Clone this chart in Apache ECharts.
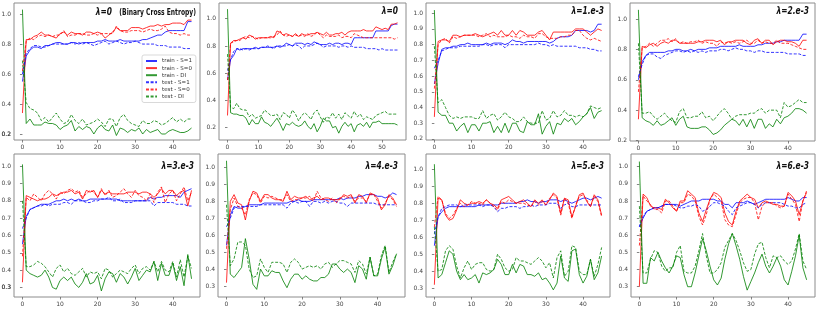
<!DOCTYPE html>
<html><head><meta charset="utf-8">
<script src="https://cdn.jsdelivr.net/npm/echarts@6/dist/echarts.min.js"></script>
<style>html,body{margin:0;padding:0;background:#fff}#c{width:822px;height:309px}</style>
</head><body><div id="c"></div>
<script>
// ---------- series names / tick labels ----------
const SERIES_NAMES = ['train - S=1','train - S=0','train - DI','test - S=1','test - S=0','test - DI'];
const X_TICKS_45 = [0,10,20,30,40];
const X_TICKS_55 = [0,10,20,30,40,50];
const Y_TICKS_02 = [0.2,0.4,0.6,0.8,1.0];
const Y_TICKS_01A = [0.2,0.3,0.4,0.5,0.6,0.7,0.8,0.9,1.0];
const Y_TICKS_01B = [0.3,0.4,0.5,0.6,0.7,0.8,0.9,1.0];
const TITLES = ['λ=0','λ=0','λ=1.e-3','λ=2.e-3','λ=3.e-3','λ=4.e-3','λ=5.e-3','λ=6.e-3'];
const SUBTITLE_1 = '(Binary Cross Entropy)';

// ---------- panel 1 : λ=0 (BCE) ----------
const P1_TRAIN_S1 = [0.55,0.72,0.76,0.78,0.78,0.77,0.79,0.79,0.80,0.81,0.81,0.80,0.80,0.81,0.81,0.80,0.81,0.81,0.81,0.81,0.82,0.82,0.83,0.82,0.82,0.82,0.83,0.82,0.82,0.82,0.82,0.82,0.83,0.83,0.84,0.85,0.86,0.86,0.88,0.89,0.89,0.89,0.89,0.89,0.95,0.95];
const P1_TRAIN_S0 = [0.34,0.83,0.83,0.85,0.86,0.88,0.86,0.86,0.85,0.84,0.87,0.88,0.86,0.88,0.87,0.87,0.86,0.88,0.88,0.87,0.88,0.87,0.84,0.86,0.88,0.91,0.89,0.89,0.89,0.91,0.91,0.91,0.90,0.91,0.92,0.92,0.93,0.92,0.93,0.93,0.94,0.94,0.94,0.93,0.96,0.96];
const P1_TRAIN_DI = [1.03,0.27,0.30,0.26,0.26,0.26,0.28,0.27,0.27,0.26,0.23,0.25,0.26,0.29,0.22,0.25,0.23,0.25,0.24,0.20,0.24,0.26,0.23,0.22,0.26,0.19,0.24,0.23,0.21,0.23,0.22,0.24,0.20,0.23,0.21,0.22,0.23,0.20,0.20,0.22,0.23,0.22,0.21,0.21,0.22,0.24];
const P1_TEST_S1 = [0.60,0.74,0.77,0.79,0.79,0.78,0.78,0.79,0.80,0.80,0.80,0.80,0.80,0.81,0.80,0.81,0.80,0.81,0.80,0.79,0.80,0.81,0.82,0.80,0.81,0.82,0.81,0.80,0.81,0.81,0.82,0.81,0.80,0.80,0.80,0.80,0.79,0.79,0.79,0.78,0.78,0.78,0.78,0.77,0.77,0.77];
const P1_TEST_S0 = [0.62,0.82,0.84,0.83,0.85,0.86,0.85,0.86,0.85,0.86,0.86,0.89,0.85,0.86,0.86,0.87,0.87,0.86,0.86,0.87,0.86,0.87,0.87,0.87,0.87,0.92,0.89,0.88,0.88,0.89,0.89,0.89,0.88,0.89,0.90,0.89,0.89,0.90,0.92,0.88,0.87,0.87,0.86,0.87,0.86,0.86];
const P1_TEST_DI = [0.69,0.41,0.37,0.36,0.34,0.29,0.31,0.28,0.31,0.34,0.30,0.27,0.28,0.33,0.29,0.27,0.30,0.26,0.27,0.28,0.30,0.28,0.25,0.30,0.30,0.25,0.31,0.33,0.29,0.27,0.26,0.25,0.29,0.27,0.27,0.29,0.28,0.26,0.27,0.29,0.31,0.28,0.30,0.28,0.30,0.30];

// ---------- panel 2 : λ=0 ----------
const P2_TRAIN_S1 = [0.55,0.70,0.73,0.78,0.77,0.78,0.78,0.78,0.78,0.79,0.78,0.79,0.79,0.79,0.79,0.79,0.80,0.79,0.80,0.82,0.81,0.80,0.82,0.82,0.82,0.81,0.82,0.81,0.83,0.82,0.81,0.81,0.81,0.82,0.81,0.82,0.82,0.81,0.82,0.82,0.81,0.86,0.86,0.86,0.86,0.86,0.86,0.86,0.91,0.91,0.91,0.91,0.91,0.95,0.96,0.96];
const P2_TRAIN_S0 = [0.29,0.82,0.84,0.84,0.85,0.86,0.85,0.88,0.87,0.85,0.86,0.86,0.86,0.86,0.87,0.86,0.91,0.90,0.88,0.89,0.88,0.87,0.89,0.87,0.89,0.88,0.88,0.89,0.89,0.90,0.89,0.88,0.90,0.88,0.88,0.89,0.89,0.90,0.88,0.90,0.91,0.91,0.91,0.91,0.92,0.91,0.91,0.91,0.94,0.93,0.92,0.93,0.92,0.96,0.96,0.97];
const P2_TRAIN_DI = [1.07,0.31,0.30,0.30,0.29,0.29,0.27,0.22,0.26,0.23,0.23,0.28,0.24,0.23,0.21,0.24,0.27,0.23,0.18,0.23,0.22,0.24,0.22,0.21,0.22,0.25,0.21,0.19,0.23,0.17,0.21,0.27,0.25,0.25,0.20,0.21,0.16,0.21,0.24,0.21,0.23,0.17,0.22,0.23,0.21,0.24,0.20,0.24,0.24,0.25,0.23,0.23,0.23,0.23,0.23,0.22];
const P2_TEST_S1 = [0.62,0.70,0.76,0.78,0.78,0.77,0.78,0.77,0.78,0.78,0.78,0.79,0.79,0.80,0.79,0.78,0.80,0.80,0.80,0.80,0.81,0.80,0.81,0.80,0.78,0.80,0.80,0.80,0.81,0.82,0.81,0.79,0.80,0.80,0.80,0.80,0.79,0.80,0.80,0.79,0.80,0.79,0.79,0.79,0.79,0.78,0.78,0.78,0.78,0.77,0.78,0.77,0.77,0.77,0.77,0.77];
const P2_TEST_S0 = [0.55,0.82,0.83,0.84,0.84,0.86,0.87,0.86,0.87,0.86,0.85,0.86,0.86,0.86,0.86,0.87,0.88,0.91,0.88,0.87,0.88,0.87,0.88,0.87,0.88,0.87,0.89,0.87,0.88,0.90,0.88,0.86,0.88,0.87,0.87,0.87,0.88,0.86,0.87,0.87,0.86,0.89,0.88,0.87,0.86,0.86,0.86,0.86,0.86,0.86,0.86,0.86,0.86,0.86,0.85,0.86];
const P2_TEST_DI = [0.74,0.35,0.34,0.38,0.34,0.33,0.33,0.28,0.30,0.27,0.28,0.29,0.33,0.31,0.29,0.29,0.30,0.26,0.31,0.30,0.27,0.33,0.30,0.25,0.29,0.31,0.29,0.26,0.31,0.33,0.28,0.24,0.28,0.27,0.31,0.27,0.30,0.26,0.31,0.29,0.27,0.32,0.28,0.30,0.26,0.28,0.27,0.26,0.29,0.30,0.31,0.32,0.30,0.30,0.30,0.30];

// ---------- panel 3 : λ=1.e-3 ----------
const P3_TRAIN_S1 = [0.55,0.68,0.77,0.78,0.78,0.79,0.79,0.80,0.80,0.81,0.80,0.80,0.80,0.80,0.81,0.80,0.81,0.81,0.81,0.80,0.81,0.83,0.82,0.82,0.81,0.82,0.82,0.82,0.82,0.82,0.82,0.81,0.82,0.84,0.85,0.85,0.85,0.86,0.89,0.89,0.89,0.89,0.88,0.89,0.93,0.93];
const P3_TRAIN_S0 = [0.34,0.82,0.83,0.83,0.82,0.86,0.86,0.85,0.86,0.86,0.86,0.87,0.86,0.85,0.86,0.87,0.88,0.86,0.89,0.86,0.86,0.89,0.86,0.89,0.88,0.86,0.86,0.86,0.88,0.89,0.86,0.83,0.88,0.88,0.88,0.88,0.88,0.88,0.90,0.90,0.90,0.88,0.86,0.88,0.90,0.89];
const P3_TRAIN_DI = [1.02,0.37,0.35,0.35,0.30,0.30,0.25,0.28,0.30,0.24,0.29,0.29,0.25,0.30,0.30,0.31,0.24,0.28,0.24,0.30,0.24,0.30,0.30,0.25,0.24,0.31,0.29,0.29,0.36,0.23,0.28,0.31,0.23,0.30,0.29,0.33,0.31,0.33,0.29,0.31,0.34,0.36,0.40,0.33,0.37,0.38];
const P3_TEST_S1 = [0.65,0.70,0.76,0.77,0.78,0.78,0.78,0.79,0.79,0.79,0.79,0.79,0.79,0.80,0.80,0.79,0.80,0.80,0.80,0.78,0.80,0.80,0.80,0.80,0.80,0.80,0.80,0.80,0.81,0.80,0.80,0.79,0.80,0.79,0.79,0.79,0.79,0.79,0.79,0.78,0.78,0.78,0.77,0.77,0.76,0.76];
const P3_TEST_S0 = [0.52,0.80,0.83,0.84,0.81,0.85,0.84,0.85,0.86,0.86,0.86,0.86,0.85,0.86,0.87,0.85,0.86,0.85,0.85,0.85,0.86,0.85,0.85,0.84,0.86,0.85,0.85,0.84,0.87,0.87,0.85,0.84,0.84,0.84,0.85,0.85,0.86,0.86,0.89,0.89,0.86,0.84,0.83,0.84,0.83,0.82];
const P3_TEST_DI = [0.79,0.43,0.45,0.40,0.35,0.33,0.34,0.33,0.34,0.34,0.34,0.33,0.33,0.38,0.33,0.35,0.36,0.32,0.34,0.37,0.34,0.33,0.31,0.31,0.34,0.31,0.30,0.30,0.30,0.38,0.32,0.33,0.38,0.34,0.35,0.38,0.35,0.35,0.34,0.35,0.34,0.36,0.41,0.40,0.39,0.40];

// ---------- panel 4 : λ=2.e-3 ----------
const P4_TRAIN_S1 = [0.60,0.72,0.76,0.78,0.78,0.78,0.78,0.78,0.79,0.79,0.80,0.80,0.79,0.79,0.80,0.79,0.80,0.80,0.80,0.81,0.81,0.81,0.82,0.82,0.82,0.82,0.82,0.83,0.82,0.82,0.82,0.82,0.83,0.83,0.84,0.84,0.84,0.85,0.85,0.86,0.86,0.86,0.86,0.86,0.90,0.90];
const P4_TRAIN_S0 = [0.34,0.82,0.81,0.83,0.84,0.82,0.84,0.85,0.84,0.86,0.86,0.84,0.84,0.84,0.84,0.84,0.85,0.85,0.86,0.86,0.86,0.85,0.86,0.83,0.85,0.85,0.86,0.86,0.86,0.84,0.83,0.86,0.87,0.84,0.86,0.86,0.83,0.85,0.86,0.86,0.85,0.85,0.84,0.82,0.86,0.86];
const P4_TRAIN_DI = [1.06,0.35,0.33,0.32,0.30,0.33,0.30,0.31,0.33,0.35,0.30,0.34,0.36,0.29,0.28,0.28,0.28,0.29,0.29,0.27,0.24,0.25,0.27,0.30,0.32,0.34,0.33,0.30,0.34,0.29,0.34,0.28,0.34,0.34,0.28,0.31,0.29,0.34,0.31,0.35,0.36,0.38,0.41,0.41,0.40,0.38];
const P4_TEST_S1 = [0.62,0.70,0.76,0.77,0.77,0.75,0.74,0.76,0.77,0.78,0.79,0.79,0.78,0.79,0.78,0.79,0.78,0.79,0.78,0.79,0.79,0.79,0.80,0.80,0.79,0.80,0.81,0.80,0.80,0.79,0.79,0.78,0.79,0.79,0.78,0.78,0.78,0.78,0.78,0.78,0.77,0.77,0.77,0.77,0.76,0.76];
const P4_TEST_S0 = [0.52,0.81,0.82,0.84,0.82,0.84,0.86,0.86,0.87,0.85,0.87,0.84,0.85,0.84,0.85,0.85,0.86,0.84,0.85,0.84,0.84,0.82,0.85,0.84,0.85,0.84,0.85,0.84,0.85,0.86,0.84,0.84,0.86,0.84,0.85,0.84,0.84,0.86,0.84,0.84,0.84,0.83,0.82,0.81,0.80,0.80];
const P4_TEST_DI = [0.84,0.38,0.38,0.39,0.36,0.34,0.36,0.38,0.35,0.33,0.32,0.39,0.41,0.35,0.35,0.36,0.36,0.39,0.35,0.36,0.33,0.36,0.39,0.41,0.38,0.34,0.36,0.37,0.37,0.37,0.38,0.38,0.40,0.41,0.38,0.40,0.40,0.40,0.35,0.45,0.42,0.43,0.45,0.47,0.45,0.45];

// ---------- panel 5 : λ=3.e-3 ----------
const P5_TRAIN_S1 = [0.55,0.71,0.75,0.76,0.77,0.78,0.78,0.78,0.79,0.80,0.80,0.81,0.80,0.81,0.80,0.81,0.80,0.80,0.81,0.81,0.81,0.81,0.81,0.81,0.81,0.81,0.80,0.80,0.80,0.80,0.80,0.80,0.80,0.80,0.82,0.81,0.82,0.82,0.83,0.83,0.83,0.83,0.82,0.85,0.86,0.87];
const P5_TRAIN_S0 = [0.33,0.83,0.82,0.81,0.80,0.81,0.81,0.82,0.84,0.83,0.84,0.85,0.85,0.86,0.84,0.85,0.81,0.86,0.85,0.86,0.82,0.86,0.84,0.85,0.84,0.84,0.84,0.84,0.85,0.85,0.85,0.84,0.85,0.85,0.84,0.82,0.84,0.87,0.84,0.86,0.86,0.83,0.85,0.86,0.77,0.86];
const P5_TRAIN_DI = [1.01,0.40,0.38,0.37,0.36,0.37,0.40,0.36,0.30,0.29,0.34,0.36,0.34,0.36,0.32,0.30,0.33,0.38,0.32,0.33,0.37,0.28,0.35,0.39,0.38,0.33,0.38,0.36,0.32,0.36,0.41,0.34,0.37,0.40,0.39,0.45,0.34,0.44,0.37,0.37,0.44,0.34,0.42,0.31,0.49,0.35];
const P5_TEST_S1 = [0.64,0.70,0.75,0.76,0.77,0.77,0.78,0.77,0.78,0.78,0.78,0.79,0.79,0.78,0.80,0.80,0.80,0.79,0.79,0.80,0.80,0.81,0.81,0.82,0.80,0.80,0.81,0.79,0.79,0.79,0.80,0.80,0.80,0.80,0.80,0.77,0.79,0.79,0.79,0.79,0.79,0.78,0.78,0.78,0.77,0.77];
const P5_TEST_S0 = [0.48,0.82,0.80,0.84,0.82,0.80,0.84,0.86,0.84,0.81,0.85,0.84,0.86,0.87,0.85,0.86,0.82,0.84,0.86,0.85,0.82,0.87,0.83,0.86,0.82,0.83,0.85,0.87,0.84,0.82,0.86,0.83,0.82,0.80,0.84,0.79,0.85,0.88,0.79,0.84,0.86,0.80,0.84,0.88,0.80,0.85];
const P5_TEST_DI = [0.80,0.42,0.42,0.43,0.45,0.44,0.42,0.39,0.36,0.41,0.43,0.39,0.41,0.38,0.37,0.39,0.41,0.36,0.39,0.38,0.39,0.35,0.41,0.40,0.36,0.38,0.40,0.39,0.38,0.41,0.43,0.38,0.41,0.42,0.40,0.45,0.39,0.45,0.40,0.39,0.45,0.36,0.46,0.36,0.48,0.41];

// ---------- panel 6 : λ=4.e-3 ----------
const P6_TRAIN_S1 = [0.54,0.72,0.77,0.76,0.76,0.77,0.78,0.78,0.78,0.78,0.79,0.79,0.79,0.79,0.79,0.79,0.79,0.80,0.80,0.81,0.80,0.80,0.80,0.81,0.81,0.81,0.81,0.81,0.81,0.81,0.82,0.81,0.82,0.82,0.82,0.83,0.83,0.84,0.84,0.84,0.83,0.83,0.82,0.83,0.85,0.84];
const P6_TRAIN_S0 = [0.32,0.80,0.84,0.79,0.78,0.69,0.80,0.86,0.85,0.80,0.84,0.84,0.82,0.81,0.81,0.80,0.86,0.81,0.83,0.82,0.82,0.83,0.81,0.82,0.83,0.81,0.82,0.82,0.81,0.81,0.81,0.84,0.83,0.84,0.79,0.84,0.83,0.79,0.85,0.84,0.82,0.75,0.78,0.84,0.82,0.78];
const P6_TRAIN_DI = [1.04,0.37,0.35,0.38,0.41,0.58,0.46,0.31,0.28,0.40,0.36,0.36,0.39,0.38,0.38,0.33,0.29,0.34,0.37,0.37,0.34,0.36,0.34,0.33,0.33,0.35,0.35,0.37,0.43,0.43,0.40,0.38,0.40,0.38,0.32,0.42,0.40,0.34,0.47,0.36,0.36,0.46,0.53,0.37,0.42,0.49];
const P6_TEST_S1 = [0.65,0.70,0.76,0.77,0.77,0.77,0.77,0.77,0.77,0.78,0.78,0.78,0.78,0.78,0.78,0.78,0.76,0.79,0.80,0.79,0.80,0.80,0.77,0.80,0.80,0.79,0.80,0.79,0.80,0.80,0.79,0.79,0.77,0.79,0.79,0.79,0.79,0.79,0.79,0.79,0.78,0.78,0.78,0.78,0.78,0.78];
const P6_TEST_S0 = [0.52,0.75,0.82,0.77,0.76,0.72,0.81,0.85,0.84,0.79,0.83,0.82,0.83,0.82,0.81,0.81,0.84,0.80,0.81,0.81,0.82,0.82,0.83,0.80,0.86,0.82,0.81,0.80,0.82,0.79,0.82,0.83,0.82,0.83,0.80,0.82,0.82,0.80,0.84,0.84,0.80,0.76,0.79,0.83,0.81,0.77];
const P6_TEST_DI = [0.78,0.42,0.46,0.56,0.56,0.54,0.40,0.35,0.36,0.46,0.41,0.38,0.44,0.44,0.44,0.43,0.38,0.44,0.46,0.44,0.40,0.41,0.42,0.41,0.42,0.40,0.43,0.44,0.41,0.43,0.45,0.45,0.44,0.43,0.38,0.45,0.43,0.37,0.47,0.36,0.37,0.48,0.54,0.38,0.44,0.49];

// ---------- panel 7 : λ=5.e-3 ----------
const P7_TRAIN_S1 = [0.55,0.72,0.75,0.77,0.78,0.78,0.78,0.78,0.78,0.78,0.78,0.78,0.79,0.79,0.79,0.79,0.79,0.79,0.80,0.80,0.80,0.80,0.80,0.81,0.81,0.82,0.81,0.81,0.80,0.81,0.81,0.82,0.82,0.82,0.81,0.82,0.81,0.80,0.81,0.82,0.83,0.83,0.82,0.83,0.84,0.83];
const P7_TRAIN_S0 = [0.32,0.83,0.82,0.73,0.70,0.71,0.76,0.82,0.80,0.79,0.80,0.80,0.81,0.80,0.82,0.80,0.79,0.77,0.82,0.83,0.84,0.82,0.80,0.81,0.82,0.80,0.78,0.82,0.80,0.82,0.79,0.82,0.86,0.84,0.74,0.83,0.82,0.72,0.78,0.85,0.86,0.81,0.78,0.85,0.82,0.73];
const P7_TRAIN_DI = [1.03,0.36,0.38,0.45,0.52,0.50,0.40,0.35,0.38,0.35,0.36,0.38,0.33,0.39,0.38,0.39,0.41,0.47,0.44,0.38,0.38,0.44,0.39,0.44,0.43,0.38,0.38,0.37,0.39,0.35,0.36,0.33,0.29,0.33,0.49,0.36,0.34,0.52,0.53,0.38,0.33,0.37,0.47,0.35,0.39,0.49];
const P7_TEST_S1 = [0.62,0.72,0.77,0.78,0.79,0.79,0.79,0.78,0.79,0.79,0.79,0.79,0.79,0.78,0.79,0.79,0.78,0.75,0.77,0.77,0.78,0.78,0.78,0.77,0.78,0.78,0.79,0.78,0.79,0.79,0.79,0.80,0.80,0.80,0.77,0.79,0.80,0.78,0.78,0.79,0.79,0.79,0.79,0.79,0.79,0.79];
const P7_TEST_S0 = [0.66,0.84,0.82,0.74,0.71,0.73,0.77,0.80,0.78,0.79,0.81,0.80,0.80,0.79,0.82,0.80,0.78,0.76,0.81,0.80,0.82,0.81,0.80,0.80,0.80,0.79,0.78,0.81,0.79,0.81,0.79,0.83,0.85,0.83,0.73,0.83,0.80,0.71,0.79,0.84,0.85,0.82,0.78,0.84,0.81,0.72];
const P7_TEST_DI = [0.66,0.40,0.41,0.52,0.55,0.53,0.43,0.36,0.42,0.46,0.41,0.44,0.45,0.45,0.41,0.40,0.41,0.50,0.47,0.42,0.40,0.41,0.48,0.46,0.46,0.45,0.44,0.46,0.48,0.46,0.42,0.45,0.36,0.48,0.52,0.37,0.40,0.55,0.54,0.40,0.38,0.38,0.47,0.37,0.44,0.54];

// ---------- panel 8 : λ=6.e-3 ----------
const P8_TRAIN_S1 = [0.65,0.70,0.74,0.75,0.76,0.76,0.77,0.78,0.78,0.78,0.78,0.77,0.78,0.79,0.80,0.80,0.80,0.81,0.81,0.81,0.81,0.80,0.80,0.78,0.78,0.76,0.79,0.79,0.79,0.80,0.79,0.78,0.79,0.80,0.81,0.81,0.81,0.81,0.81,0.81,0.82,0.81,0.80,0.80,0.82,0.82];
const P8_TRAIN_S0 = [0.30,0.84,0.82,0.77,0.76,0.76,0.75,0.81,0.79,0.76,0.74,0.80,0.80,0.86,0.84,0.82,0.73,0.68,0.75,0.81,0.85,0.84,0.82,0.73,0.68,0.66,0.74,0.80,0.82,0.84,0.82,0.81,0.76,0.79,0.80,0.79,0.78,0.78,0.77,0.77,0.85,0.83,0.80,0.72,0.80,0.85];
const P8_TRAIN_DI = [1.03,0.32,0.32,0.47,0.45,0.50,0.45,0.41,0.38,0.42,0.48,0.47,0.37,0.30,0.30,0.38,0.48,0.58,0.51,0.42,0.34,0.31,0.35,0.46,0.55,0.61,0.54,0.46,0.36,0.28,0.33,0.38,0.44,0.49,0.42,0.38,0.42,0.47,0.42,0.34,0.31,0.39,0.48,0.60,0.41,0.34];
const P8_TEST_S1 = [0.65,0.71,0.74,0.75,0.76,0.76,0.77,0.78,0.78,0.78,0.77,0.76,0.76,0.77,0.77,0.78,0.77,0.74,0.75,0.77,0.79,0.79,0.78,0.77,0.74,0.72,0.76,0.77,0.78,0.79,0.79,0.78,0.76,0.78,0.79,0.79,0.79,0.79,0.79,0.78,0.77,0.77,0.76,0.76,0.78,0.79];
const P8_TEST_S0 = [0.54,0.83,0.80,0.78,0.75,0.75,0.73,0.80,0.80,0.77,0.74,0.79,0.79,0.84,0.83,0.80,0.71,0.66,0.72,0.81,0.84,0.82,0.80,0.69,0.66,0.65,0.72,0.79,0.81,0.82,0.82,0.79,0.69,0.77,0.79,0.79,0.79,0.77,0.76,0.77,0.84,0.81,0.78,0.68,0.80,0.86];
const P8_TEST_DI = [0.77,0.38,0.38,0.46,0.51,0.50,0.42,0.39,0.41,0.41,0.50,0.54,0.39,0.38,0.38,0.42,0.51,0.61,0.48,0.38,0.38,0.40,0.44,0.53,0.57,0.61,0.57,0.51,0.44,0.39,0.40,0.49,0.55,0.56,0.47,0.41,0.48,0.47,0.48,0.45,0.43,0.45,0.52,0.61,0.45,0.40];

// ---------- layout / style ----------
const COLORS = ['#0000ff','#ff0000','#008000','#0000ff','#ff0000','#008000'];
const DASHED = [false,false,false,true,true,true];
const FONT = "'DejaVu Sans', sans-serif";

const panels = [
  {series:[P1_TRAIN_S1,P1_TRAIN_S0,P1_TRAIN_DI,P1_TEST_S1,P1_TEST_S0,P1_TEST_DI], xTicks:X_TICKS_45, yTicks:Y_TICKS_02,  yMin:0.16,  yMax:1.074, grid:{left:14, top:3,   width:186, height:137}, titleX:112, titleY:12},
  {series:[P2_TRAIN_S1,P2_TRAIN_S0,P2_TRAIN_DI,P2_TEST_S1,P2_TEST_S0,P2_TEST_DI], xTicks:X_TICKS_55, yTicks:Y_TICKS_02,  yMin:0.11,  yMax:1.115, grid:{left:219,top:3,   width:187, height:137}, titleX:398, titleY:11},
  {series:[P3_TRAIN_S1,P3_TRAIN_S0,P3_TRAIN_DI,P3_TEST_S1,P3_TEST_S0,P3_TEST_DI], xTicks:X_TICKS_45, yTicks:Y_TICKS_01A, yMin:0.193, yMax:1.065, grid:{left:426,top:3,   width:184, height:137}, titleX:604, titleY:11},
  {series:[P4_TRAIN_S1,P4_TRAIN_S0,P4_TRAIN_DI,P4_TEST_S1,P4_TEST_S0,P4_TEST_DI], xTicks:X_TICKS_45, yTicks:Y_TICKS_02,  yMin:0.197, yMax:1.105, grid:{left:630,top:3,   width:185, height:138}, titleX:809, titleY:11},
  {series:[P5_TRAIN_S1,P5_TRAIN_S0,P5_TRAIN_DI,P5_TEST_S1,P5_TEST_S0,P5_TEST_DI], xTicks:X_TICKS_45, yTicks:Y_TICKS_01B, yMin:0.245, yMax:1.07,  grid:{left:14, top:154, width:186, height:143}, titleX:194, titleY:166},
  {series:[P6_TRAIN_S1,P6_TRAIN_S0,P6_TRAIN_DI,P6_TEST_S1,P6_TEST_S0,P6_TEST_DI], xTicks:X_TICKS_45, yTicks:Y_TICKS_01B, yMin:0.235, yMax:1.08,  grid:{left:218,top:154, width:187, height:143}, titleX:398, titleY:166},
  {series:[P7_TRAIN_S1,P7_TRAIN_S0,P7_TRAIN_DI,P7_TEST_S1,P7_TEST_S0,P7_TEST_DI], xTicks:X_TICKS_45, yTicks:Y_TICKS_01B, yMin:0.248, yMax:1.09,  grid:{left:426,top:154, width:184, height:143}, titleX:604, titleY:166},
  {series:[P8_TRAIN_S1,P8_TRAIN_S0,P8_TRAIN_DI,P8_TEST_S1,P8_TEST_S0,P8_TEST_DI], xTicks:X_TICKS_45, yTicks:Y_TICKS_01B, yMin:0.24,  yMax:1.074, grid:{left:631,top:154, width:184, height:143}, titleX:809, titleY:166}
];

const grids = [], xAxes = [], yAxes = [], seriesList = [], graphics = [];
panels.forEach((p, gi) => {
  const n = p.series[0].length - 1;
  grids.push(Object.assign({show:true, borderColor:'#8c8c8c', borderWidth:1, backgroundColor:'transparent',
                            containLabel:false, outerBoundsMode:'none'}, p.grid));
  xAxes.push({
    gridIndex: gi, type:'value', min: -0.05*n, max: 1.05*n,
    axisLine:{show:false}, splitLine:{show:false},
    axisTick:{show:true, customValues:p.xTicks, length:2.5, lineStyle:{color:'#666', width:0.8}},
    axisLabel:{customValues:p.xTicks, fontSize:6, color:'#444', margin:4, fontFamily:FONT,
               showMinLabel:true, showMaxLabel:true, hideOverlap:false}
  });
  yAxes.push({
    gridIndex: gi, type:'value', min:p.yMin, max:p.yMax,
    axisLine:{show:false}, splitLine:{show:false},
    axisTick:{show:true, customValues:p.yTicks, length:2.5, lineStyle:{color:'#666', width:0.8}},
    axisLabel:{customValues:p.yTicks, fontSize:6, color:'#444', margin:3, fontFamily:FONT,
               showMinLabel:true, showMaxLabel:true, hideOverlap:false, formatter:v=>v.toFixed(1)}
  });
  p.series.forEach((arr, si) => {
    seriesList.push({
      type:'line', name:SERIES_NAMES[si], xAxisIndex:gi, yAxisIndex:gi,
      data: arr.map((v,i)=>[i,v]), symbol:'none', showSymbol:false,
      lineStyle:{color:COLORS[si], width:1, opacity:0.8, type: DASHED[si] ? [3,1.6] : 'solid'},
      itemStyle:{color:COLORS[si]},
      silent:true, z: 2 + si
    });
  });
  graphics.push({type:'text', x:p.titleX, y:p.titleY, scaleX:0.68, z:100, style:{text:TITLES[gi], fill:'#111',
    font:"italic bold 11px 'DejaVu Sans', sans-serif",
    align:'right', verticalAlign:'middle', textAlign:'right', textVerticalAlign:'middle'}});
});
graphics.push({type:'text', x:196, y:12.5, scaleX:0.75, z:100, style:{text:SUBTITLE_1, fill:'#111',
  font:"bold 8px 'DejaVu Sans', sans-serif",
  align:'right', verticalAlign:'middle', textAlign:'right', textVerticalAlign:'middle'}});

const chart = echarts.init(document.getElementById('c'), null, {renderer:'canvas'});
chart.setOption({
  animation:false,
  backgroundColor:'#fff',
  grid:grids, xAxis:xAxes, yAxis:yAxes, series:seriesList, graphic:graphics,
  legend:{
    data:SERIES_NAMES, orient:'vertical', left:142, top:55, selectedMode:false,
    itemWidth:11, itemHeight:6, itemGap:1.1,
    itemStyle:{opacity:0},
    padding:[3,4,3,3], borderColor:'#cfcfcf', borderWidth:0.8, borderRadius:2,
    backgroundColor:'rgba(255,255,255,0.85)',
    textStyle:{fontSize:5.5, color:'#333', fontFamily:FONT, lineHeight:6}
  }
});

// Fallback: if the library hid a min y-label of a left-column panel, redraw it at the library's own pixel position
setTimeout(() => {
  const extra = [];
  panels.forEach((p, gi) => {
    if (p.grid.left > 20) return;
    const v = p.yTicks[0];
    const pt = chart.convertToPixel({gridIndex: gi}, [0, v]);
    extra.push({type:'text', x: p.grid.left - 3, y: pt[1], z:100, silent:true,
      style:{text: v.toFixed(1), fill:'#444', font:"6px 'DejaVu Sans', sans-serif",
             align:'right', verticalAlign:'middle', textAlign:'right', textVerticalAlign:'middle'}});
  });
  chart.setOption({graphic: graphics.concat(extra)});
}, 0);
</script></body></html>
